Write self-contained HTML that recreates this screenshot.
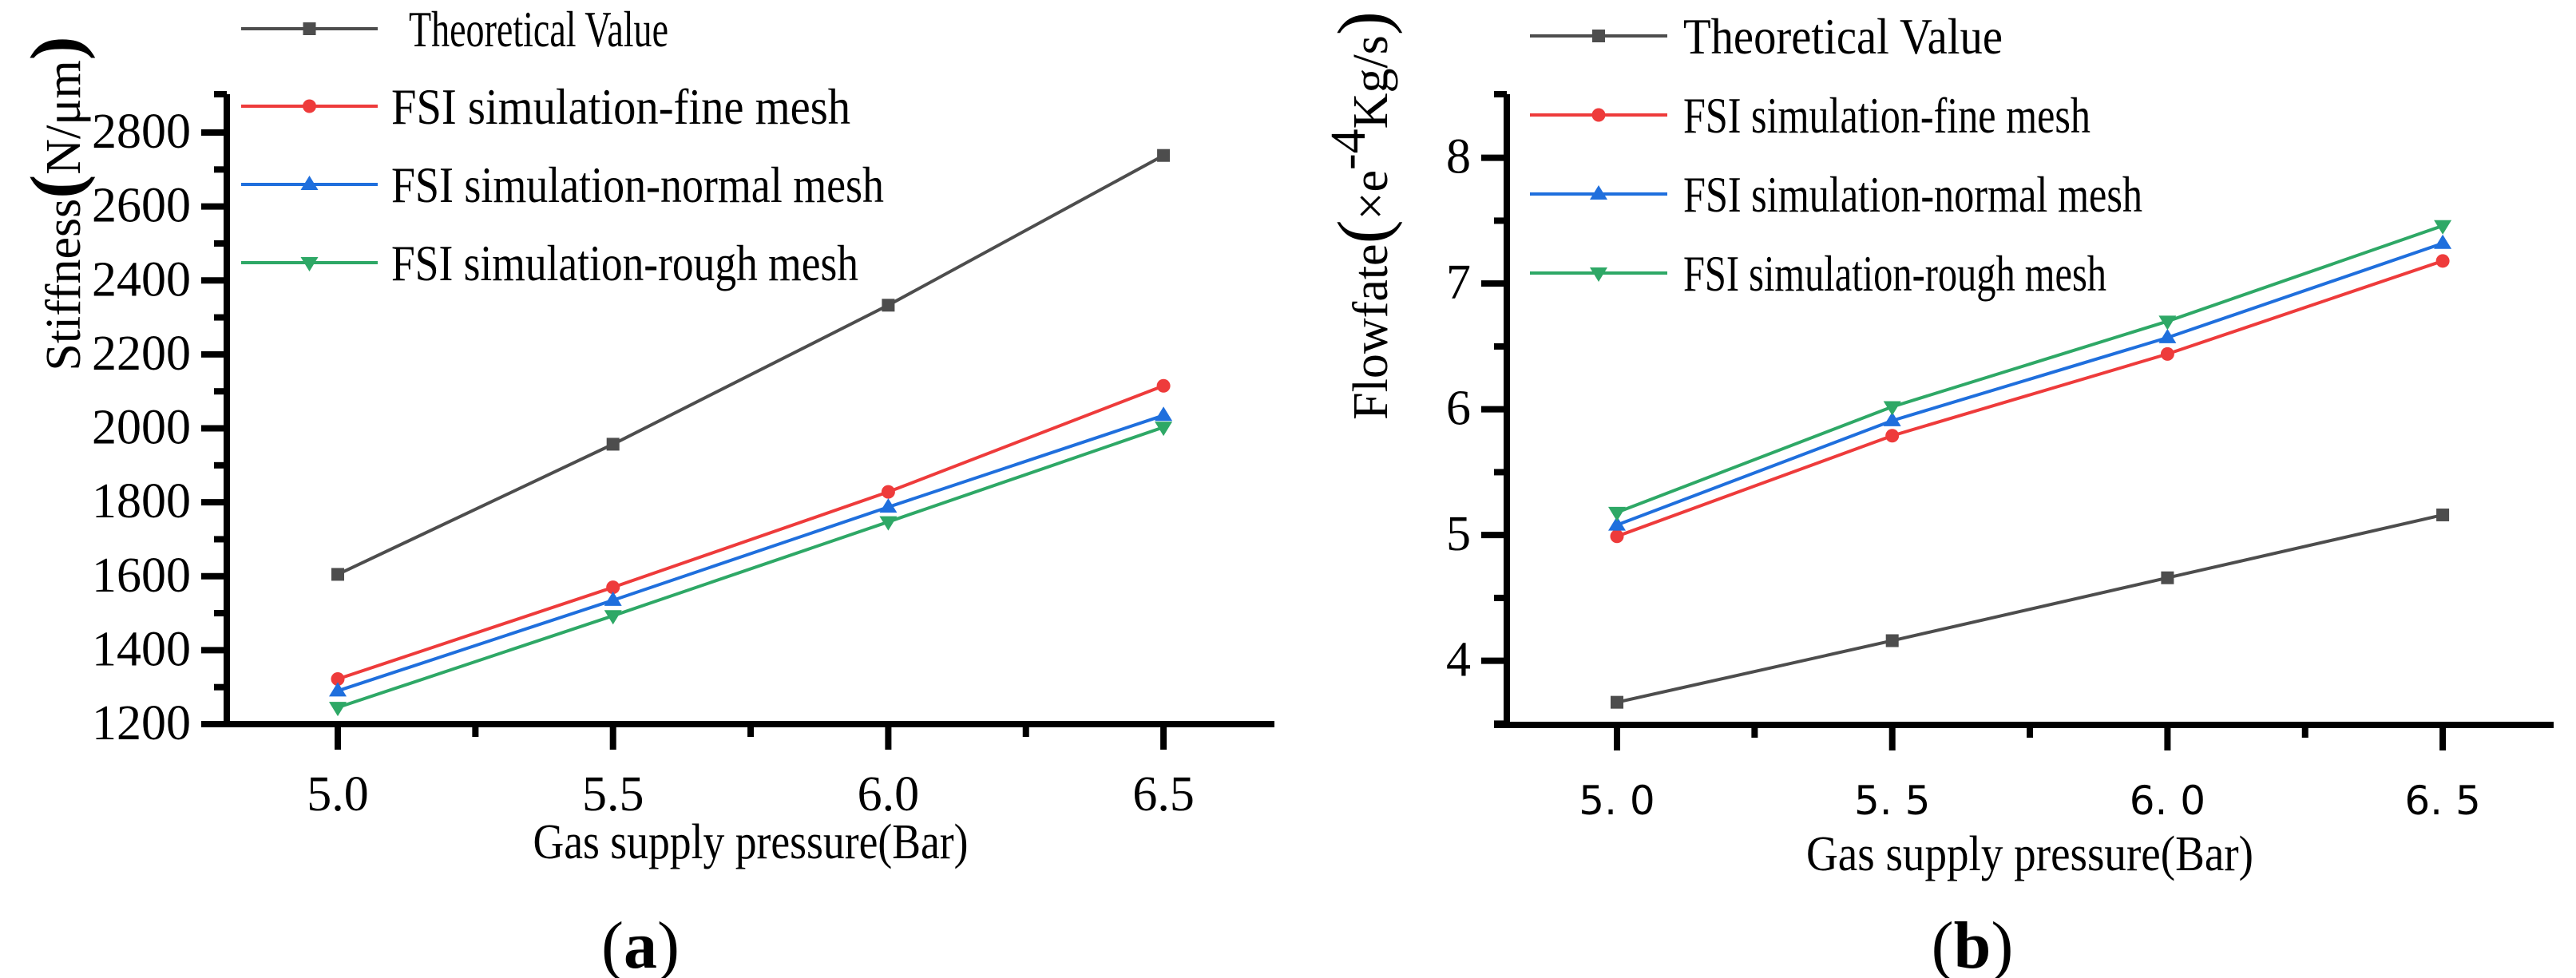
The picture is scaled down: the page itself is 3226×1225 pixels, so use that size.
<!DOCTYPE html>
<html><head><meta charset="utf-8">
<style>
html,body{margin:0;padding:0;background:#fff;}
svg{display:block;}
svg text{font-family:"Liberation Serif","Times New Roman","DejaVu Serif",serif;}
svg text.sans{font-family:"DejaVu Sans","Liberation Sans",sans-serif;}
</style></head>
<body>
<svg id="fig" width="3226" height="1225" viewBox="0 0 3226 1225"></svg>
<script>
// ---- Chart (a) data ----
const xCatsA = [5.0, 5.5, 6.0, 6.5];
const xTickLabelsA = ["5.0", "5.5", "6.0", "6.5"];
const yTicksA = [1200, 1400, 1600, 1800, 2000, 2200, 2400, 2600, 2800];
const theoA = [1605, 1957, 2333, 2738];
const fineA = [1322, 1570, 1828, 2115];
const normalA = [1290, 1535, 1787, 2035];
const roughA = [1245, 1493, 1747, 2003];
// ---- Chart (b) data ----
const xCatsB = [5.0, 5.5, 6.0, 6.5];
const xTickLabelsB = ["5. 0", "5. 5", "6. 0", "6. 5"];
const yTicksB = [4, 5, 6, 7, 8];
const theoB = [3.67, 4.16, 4.66, 5.16];
const fineB = [4.99, 5.79, 6.44, 7.18];
const normalB = [5.08, 5.91, 6.57, 7.32];
const roughB = [5.18, 6.02, 6.70, 7.46];
const seriesNames = ["Theoretical Value", "FSI simulation-fine mesh", "FSI simulation-normal mesh", "FSI simulation-rough mesh"];

const NS = "http://www.w3.org/2000/svg";
const svg = document.getElementById("fig");
function mk(tag, attrs, parent, txt){
  const e = document.createElementNS(NS, tag);
  for (const k in attrs) e.setAttribute(k, attrs[k]);
  if (txt !== undefined) e.textContent = txt;
  (parent||svg).appendChild(e);
  return e;
}
const colors = ["#4d4d4d", "#ee3b3b", "#1f6fdd", "#2ea866"];
const markers = ["square", "circle", "up", "down"];

function marker(g, type, x, y, c){
  let m;
  if (type === "square") m = mk("rect", {x:x-8, y:y-8, width:16, height:16, fill:c}, g);
  else if (type === "circle") m = mk("circle", {cx:x, cy:y, r:8.5, fill:c}, g);
  else if (type === "up") m = mk("polygon", {points:`${x},${y-11} ${x-11},${y+7} ${x+11},${y+7}`, fill:c}, g);
  else m = mk("polygon", {points:`${x},${y+11} ${x-11},${y-7} ${x+11},${y-7}`, fill:c}, g);
  
  
}

function drawChart(cfg){
  const g = mk("g", {});
  
  
  const xs = v => cfg.x0 + (v - 5.0) / 0.5 * cfg.xStep;
  const ys = v => cfg.yBase - (v - cfg.yMin) * cfg.yScale;
  cfg.series.forEach((s, i) => {
    const sg = mk("g", {}, g);
    
    
    const pts = s.map((v, j) => xs(cfg.cats[j]) + "," + ys(v)).join(" ");
    const pl = mk("polyline", {points:pts, fill:"none", stroke:colors[i], "stroke-width":4}, sg);
    
    
    s.forEach((v, j) => marker(sg, markers[i], xs(cfg.cats[j]), ys(v), colors[i]));
  });
  const ax = mk("g", {stroke:"#000", "stroke-width":8, fill:"none"}, g);
  
  
  mk("line", {x1:cfg.axX, y1:cfg.axTop, x2:cfg.axX, y2:cfg.yBase+4}, ax);
  mk("line", {x1:cfg.axLeft, y1:cfg.yBase, x2:cfg.axRight, y2:cfg.yBase}, ax);
  mk("line", {x1:cfg.axX-16, y1:cfg.axTop, x2:cfg.axX, y2:cfg.axTop}, ax);
  cfg.yTicks.forEach((t, k) => {
    const y = ys(t);
    mk("line", {x1:cfg.axX-32, y1:y, x2:cfg.axX, y2:y}, ax);
    const ym = ys(t + cfg.yMinorStep);
    if (ym > cfg.axTop + 4) mk("line", {x1:cfg.axX-16, y1:ym, x2:cfg.axX, y2:ym}, ax);
    const lab = mk("text", {x:cfg.axX-45, y:y+19, "font-size":cfg.yLabelSize, "text-anchor":"end"}, g, String(t));
    
    
  });
  if (cfg.lowMinor !== undefined) { const ym = ys(cfg.lowMinor); mk("line", {x1:cfg.axX-16, y1:ym, x2:cfg.axX, y2:ym}, ax); }
  cfg.cats.forEach((c, j) => {
    const x = xs(c);
    mk("line", {x1:x, y1:cfg.yBase, x2:x, y2:cfg.yBase+32}, ax);
    if (j < cfg.cats.length - 1) { const xm = xs(c + 0.25); mk("line", {x1:xm, y1:cfg.yBase, x2:xm, y2:cfg.yBase+16}, ax); }
    const attrs = {x:x, y:cfg.yBase+cfg.xLabelDy, "font-size":cfg.xLabelSize, "text-anchor":"middle"};
    if (cfg.xLabelSans) attrs["class"] = "sans";
    const lab = mk("text", attrs, g, cfg.xLabels[j]);
    
    
  });
  const xt = mk("text", {x:cfg.xTitleX, y:cfg.xTitleY, "font-size":62, "text-anchor":"middle", textLength:cfg.xTitleLen, lengthAdjust:"spacingAndGlyphs"}, g, "Gas supply pressure(Bar)");
  
  
  cfg.legendY.forEach((ly, i) => {
    const lg = mk("g", {}, g);
    
    
    mk("line", {x1:cfg.legX1, y1:ly, x2:cfg.legX2, y2:ly, stroke:colors[i], "stroke-width":4}, lg);
    marker(lg, markers[i], (cfg.legX1+cfg.legX2)/2, ly, colors[i]);
    mk("text", {x:cfg.legTextX + (i===0?cfg.theoOffset:0), y:ly+22, "font-size":64, textLength:cfg.legLens[i], lengthAdjust:"spacingAndGlyphs"}, lg, seriesNames[i]);
  });
  const pl = mk("text", {x:cfg.panelX, y:1212, "font-size":84, "text-anchor":"middle"}, g);
  
  
  mk("tspan", {}, pl, "(");
  mk("tspan", {"font-weight":"bold"}, pl, cfg.panel);
  mk("tspan", {}, pl, ")");
  return g;
}

drawChart({
  name:"stiffness-chart", cats:xCatsA, xLabels:xTickLabelsA, xLabelSans:false, xLabelSize:62, xLabelDy:108,
  series:[theoA, fineA, normalA, roughA],
  x0:423, xStep:344.7, yBase:907, yMin:1200, yScale:741/1600,
  axX:284, axTop:118, axLeft:252, axRight:1596,
  yTicks:yTicksA, yMinorStep:100, yLabelSize:62,
  xTitleX:940, xTitleY:1075, xTitleLen:545,
  legendY:[36, 133, 231, 329], legX1:302, legX2:473, legTextX:490, theoOffset:22,
  legLens:[325, 575, 617, 585],
  panelX:802, panel:"a"
});
drawChart({
  name:"flowrate-chart", cats:xCatsB, xLabels:xTickLabelsB, xLabelSans:true, xLabelSize:50, xLabelDy:112,
  series:[theoB, fineB, normalB, roughB],
  x0:2025, xStep:344.7, yBase:908, yMin:3.49, yScale:157.5,
  axX:1887, axTop:118, axLeft:1871, axRight:3198,
  yTicks:yTicksB, yMinorStep:0.5, lowMinor:3.5, yLabelSize:62,
  xTitleX:2542, xTitleY:1090, xTitleLen:560,
  legendY:[45, 144, 243, 342], legX1:1916, legX2:2088, legTextX:2108, theoOffset:0,
  legLens:[400, 510, 575, 530],
  panelX:2470, panel:"b"
});

const yt1 = mk("text", {transform:"translate(100,255) rotate(-90)", "font-size":62, "text-anchor":"middle"});


mk("tspan", {}, yt1, "Stiffness");
mk("tspan", {"font-size":90, "font-weight":"bold"}, yt1, "(");
mk("tspan", {}, yt1, "N/μm");
mk("tspan", {"font-size":90, "font-weight":"bold"}, yt1, ")");

const yt2 = mk("text", {transform:"translate(1737,270) rotate(-90)", "font-size":62, "text-anchor":"middle"});


mk("tspan", {}, yt2, "Flowfate");
mk("tspan", {"font-size":90}, yt2, "(");
mk("tspan", {}, yt2, "×e");
mk("tspan", {dy:-28}, yt2, "-4");
mk("tspan", {dy:28}, yt2, "Kg/s");
mk("tspan", {"font-size":90}, yt2, ")");
</script>
</body></html>
